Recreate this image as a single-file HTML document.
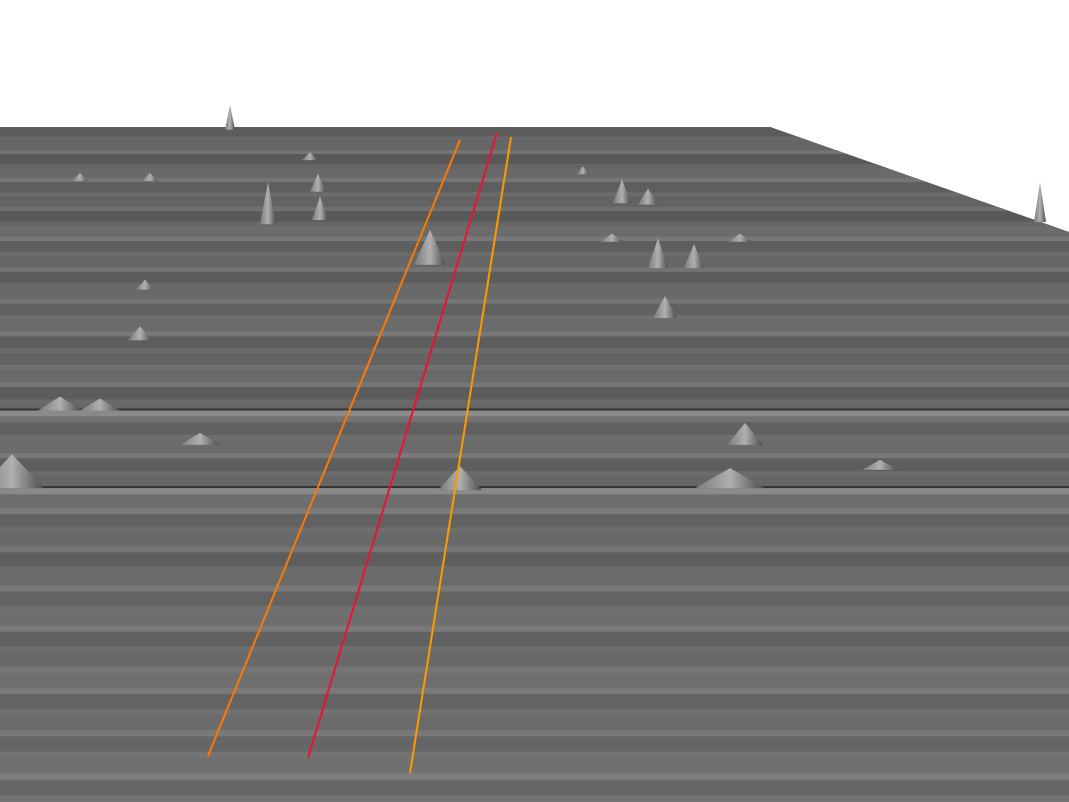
<!DOCTYPE html>
<html><head><meta charset="utf-8"><style>
html,body{margin:0;padding:0;background:#fff;width:1069px;height:802px;overflow:hidden;font-family:"Liberation Sans",sans-serif}
</style></head><body>
<svg id="chart" width="1069" height="802" viewBox="0 0 1069 802" xmlns="http://www.w3.org/2000/svg">
<defs>
<linearGradient id="pk" x1="0" y1="0" x2="1" y2="0"><stop offset="0" stop-color="#7a7a7a"/><stop offset="0.5" stop-color="#b0b0b0"/><stop offset="1" stop-color="#4a4a4a"/></linearGradient>
<clipPath id="clip"><polygon points="0,127 770,127 1069,232 1069,802 0,802"/></clipPath>
</defs>
<polygon points="0,127 770,127 1069,232 1069,802 0,802" fill="#606060"/>
<g id="rows" clip-path="url(#clip)"></g>
<g id="ridges" clip-path="url(#clip)"></g>
<g id="peaks"></g>
<g id="lines"></g>
</svg>
<script>
// row shading (relative brightness of each row stripe)
const rowShades=[0.36,0.40,0.35,0.41,0.37,0.39,0.35,0.42,0.37,0.40,0.36,0.41,0.38,0.42,0.37,0.39,0.41,0.36,0.40,0.38,0.42,0.37,0.40,0.43,0.38,0.41,0.37,0.42,0.39,0.43,0.38,0.41,0.43,0.39,0.42,0.40,0.44,0.40];
// bright ridge rows (depth 0..1)
const ridgeDepth=[0.42,0.535];
// peaks: x position, depth (0 far .. 1 near), height, half-width
const peakX=[230,268,318,320,430,622,648,658,694,665,145,140,1040,460,12,730,745,200,60,100,880,310,80,150,740,583,612];
const peakDepth=[0.004,0.144,0.096,0.138,0.204,0.113,0.115,0.209,0.209,0.283,0.241,0.316,0.141,0.538,0.535,0.535,0.471,0.471,0.42,0.42,0.508,0.049,0.08,0.08,0.17,0.07,0.17];
const peakH=[25,42,18,24,35,24,16,30,24,22,10,14,40,24,34,20,22,12,14,12,10,8,8,8,8,8,8];
const peakW=[5,8,8,8,16,9,10,10,10,12,9,12,6,22,32,35,18,20,22,20,18,8,8,8,12,6,12];
const svg=document.getElementById('chart');
const NS='http://www.w3.org/2000/svg';
const y0=127,y1=802,n=rowShades.length;
function depthY(d){return y0+(y1-y0)*d;}
function rowY(i){const t=i/n;return depthY(t*0.75+t*t*0.25);}
function shade(v){const c=Math.round(v*255);return `rgb(${c},${c},${c})`;}
const rg=document.getElementById('rows');
rowShades.forEach((s,i)=>{
  const r=document.createElementNS(NS,'rect');
  
  
  const a=rowY(i),b=rowY(i+1);
  r.setAttribute('x',0);r.setAttribute('y',a);r.setAttribute('width',1069);r.setAttribute('height',b-a+0.5);
  r.setAttribute('fill',shade(s));rg.appendChild(r);
  const l=document.createElementNS(NS,'rect');
  
  
  l.setAttribute('x',0);l.setAttribute('y',b-(b-a)*0.3);l.setAttribute('width',1069);l.setAttribute('height',(b-a)*0.3);
  l.setAttribute('fill',shade(s+0.05));rg.appendChild(l);
});
const rdg=document.getElementById('ridges');
ridgeDepth.forEach(d=>{
  const y=depthY(d);
  const dk=document.createElementNS(NS,'rect');
  
  
  dk.setAttribute('x',0);dk.setAttribute('y',y-2);dk.setAttribute('width',1069);dk.setAttribute('height',2);
  dk.setAttribute('fill','#333');rdg.appendChild(dk);
  const r=document.createElementNS(NS,'rect');
  
  
  r.setAttribute('x',0);r.setAttribute('y',y);r.setAttribute('width',1069);r.setAttribute('height',6);
  r.setAttribute('fill','#8a8a8a');rdg.appendChild(r);
});
const pg=document.getElementById('peaks');
peakX.forEach((x,i)=>{
  const base=depthY(peakDepth[i]),h=peakH[i],w=peakW[i];
  const p=document.createElementNS(NS,'polygon');
  
  
  p.setAttribute('points',`${x-w},${base} ${x},${base-h} ${x+w},${base}`);
  p.setAttribute('fill','url(#pk)');pg.appendChild(p);
});
const lines=[[460,140,208,756,'#ff7700','left-bound-line'],[497,133,308,758,'#ee1133','center-line'],[511,137,410,773,'#ff9900','right-bound-line']];
const lg=document.getElementById('lines');
lines.forEach(d=>{
  const l=document.createElementNS(NS,'line');
  
  
  l.setAttribute('x1',d[0]);l.setAttribute('y1',d[1]);l.setAttribute('x2',d[2]);l.setAttribute('y2',d[3]);
  l.setAttribute('stroke',d[4]);l.setAttribute('stroke-width',2);lg.appendChild(l);
});
</script>
</body></html>
